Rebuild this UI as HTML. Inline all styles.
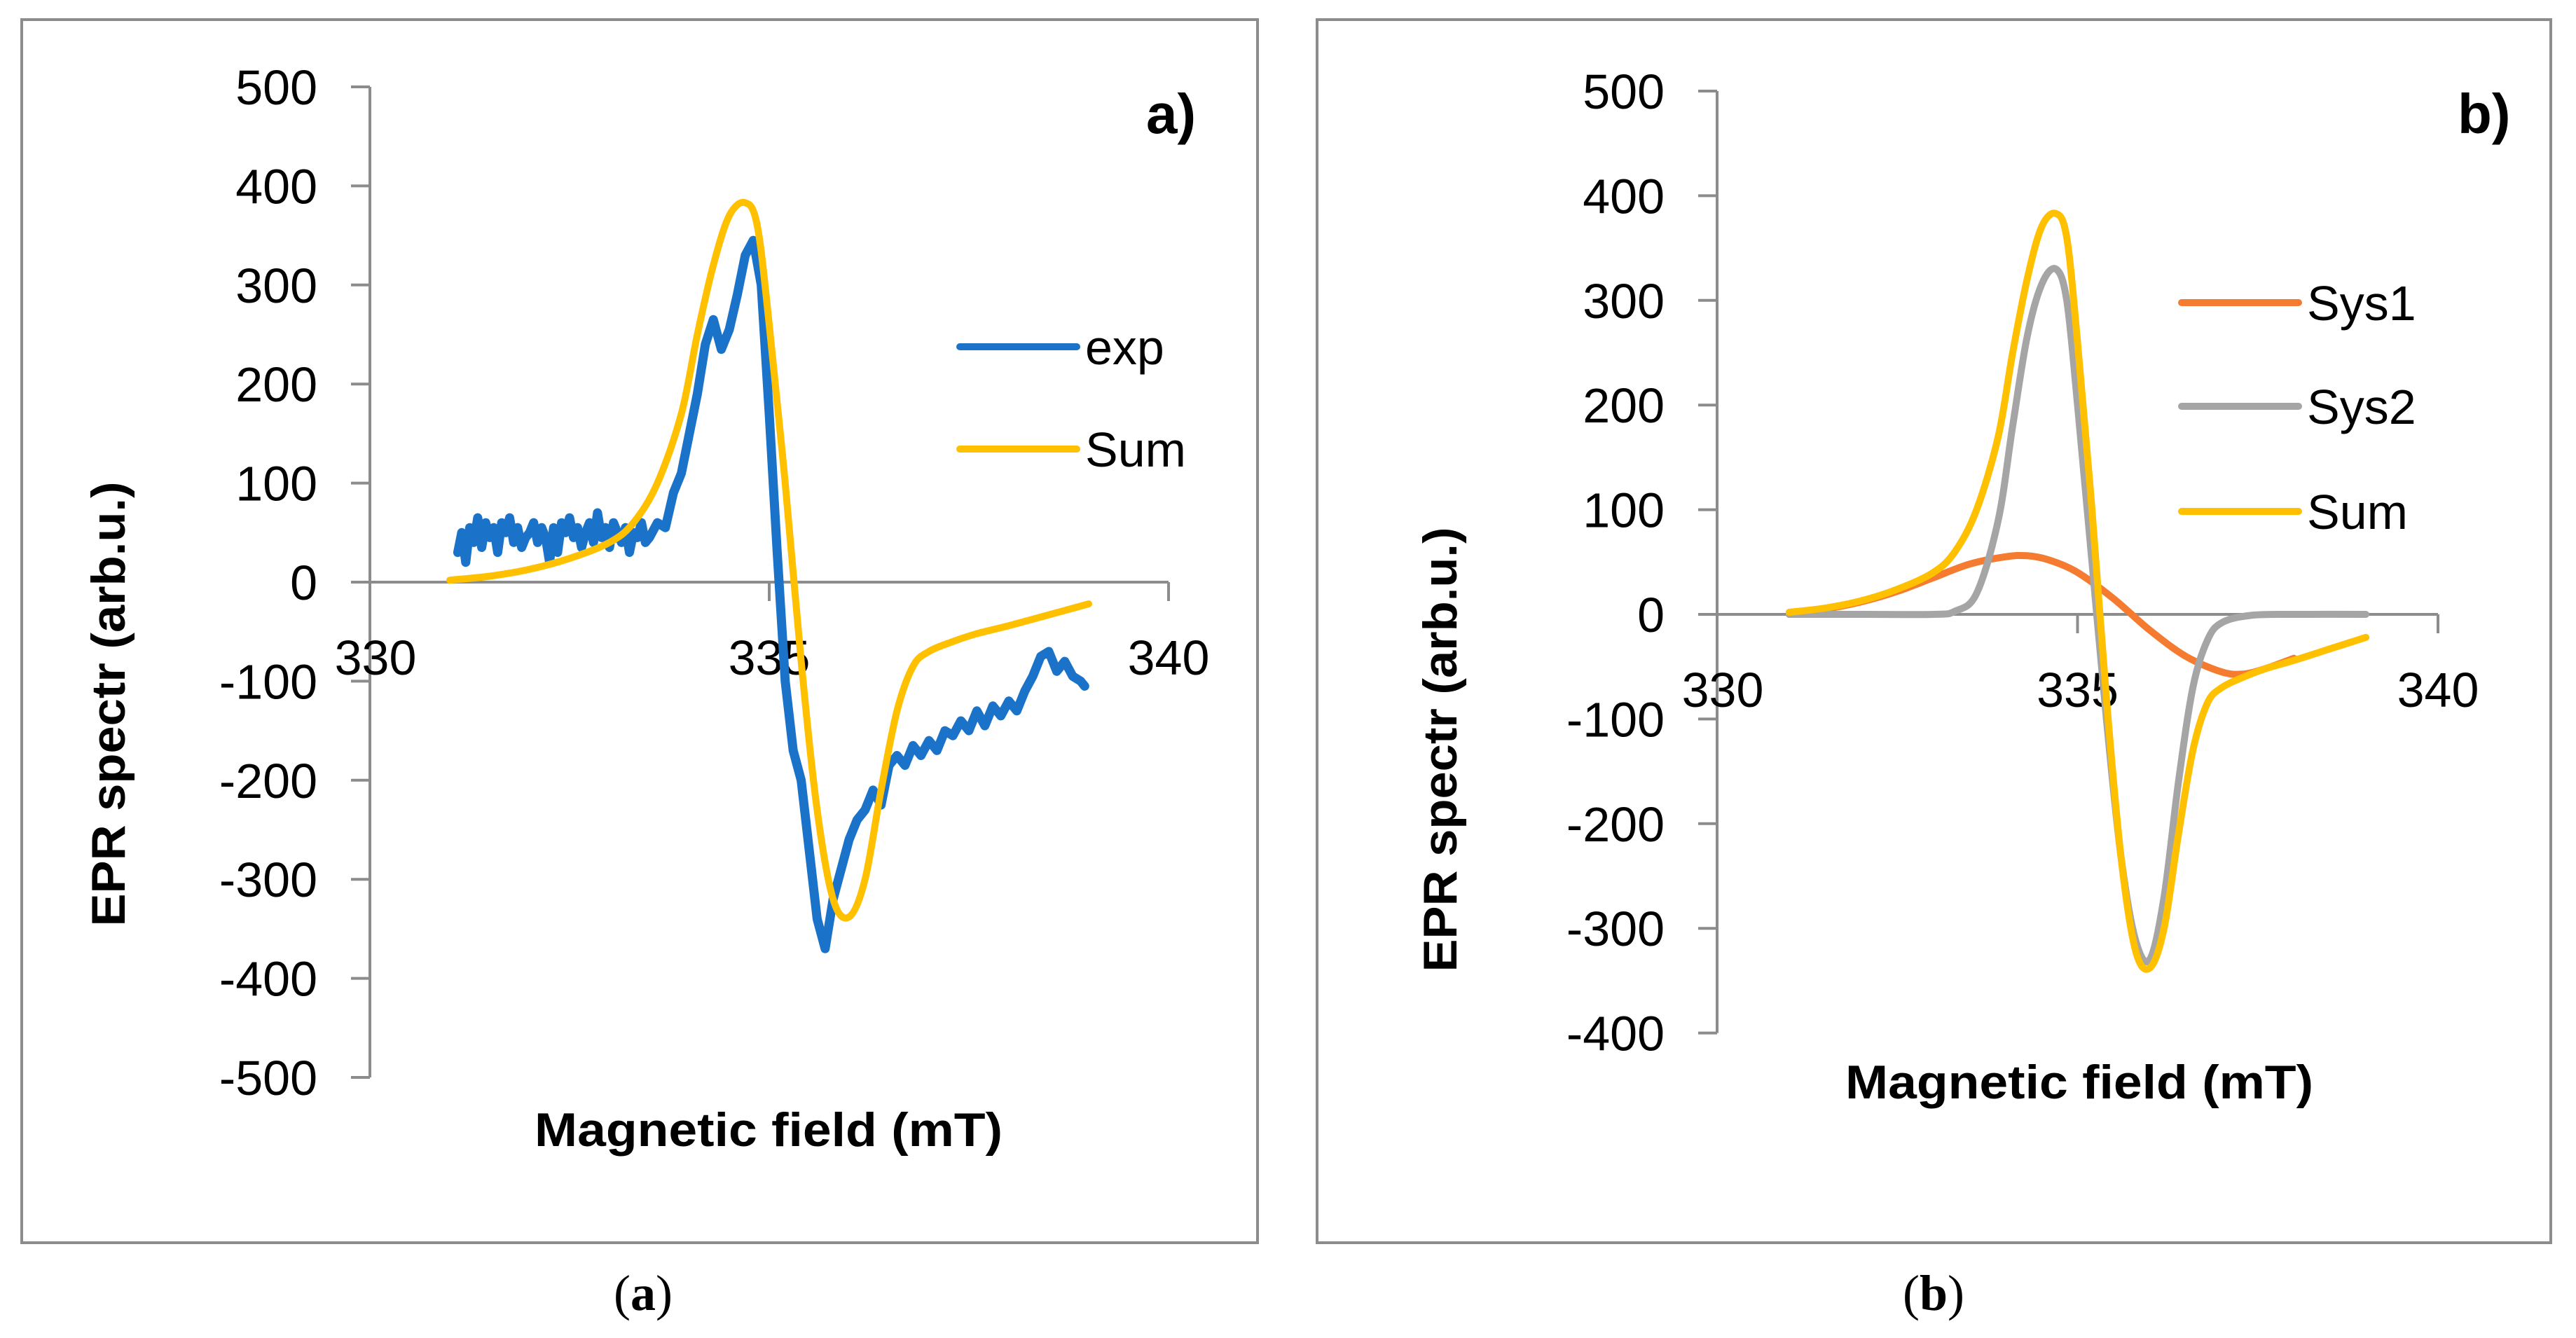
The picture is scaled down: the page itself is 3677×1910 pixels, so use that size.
<!DOCTYPE html>
<html><head><meta charset="utf-8">
<style>
html,body{margin:0;padding:0;background:#fff;}
svg{display:block;}
text{font-family:"Liberation Sans",sans-serif;fill:#000;}
</style></head>
<body>
<svg id="fig" width="3677" height="1910" viewBox="0 0 3677 1910" xmlns="http://www.w3.org/2000/svg">
<rect x="31" y="28" width="1764" height="1746" fill="none" stroke="#8c8c8c" stroke-width="4"/>
<rect x="1880" y="28" width="1761" height="1746" fill="none" stroke="#8c8c8c" stroke-width="4"/>
<g id="pa"></g>
<g id="pb"></g>
<text x="1636" y="190" font-size="80" font-weight="bold">a)</text>
<text x="3508" y="190" font-size="80" font-weight="bold">b)</text>
<text x="918" y="1870" font-size="72" text-anchor="middle" style="font-family:'Liberation Serif',serif">(<tspan font-weight="bold">a</tspan>)</text>
<text x="2760" y="1870" font-size="72" text-anchor="middle" style="font-family:'Liberation Serif',serif">(<tspan font-weight="bold">b</tspan>)</text>
</svg>
<script>
// ---- data ----
const xTicks = [330, 335, 340];
const yTicksA = [500, 400, 300, 200, 100, 0, -100, -200, -300, -400, -500];
const yTicksB = [500, 400, 300, 200, 100, 0, -100, -200, -300, -400];
const expX = [331.1,331.15,331.2,331.25,331.3,331.35,331.4,331.45,331.5,331.55,331.6,331.65,331.7,331.75,331.8,331.85,331.9,331.95,332.0,332.05,332.1,332.15,332.2,332.25,332.3,332.35,332.4,332.45,332.5,332.55,332.6,332.65,332.7,332.75,332.8,332.85,332.9,332.95,333.0,333.05,333.1,333.15,333.2,333.25,333.3,333.35,333.4,333.45,333.5,333.6,333.7,333.8,333.9,334.0,334.1,334.2,334.3,334.4,334.5,334.6,334.7,334.8,334.9,335.0,335.1,335.2,335.3,335.4,335.5,335.6,335.7,335.8,335.9,336.0,336.1,336.2,336.3,336.4,336.5,336.6,336.7,336.8,336.9,337.0,337.1,337.2,337.3,337.4,337.5,337.6,337.7,337.8,337.9,338.0,338.1,338.2,338.3,338.4,338.5,338.6,338.7,338.8,338.9,338.95];
const expY = [30,50,20,55,40,65,35,60,45,55,30,60,50,65,40,55,35,45,50,60,40,55,45,20,55,30,60,50,65,45,55,35,50,60,40,70,45,55,35,60,50,40,55,30,50,45,60,40,45,60,55,90,110,150,190,240,265,235,255,290,330,345,300,170,30,-100,-170,-200,-270,-340,-370,-320,-290,-260,-240,-230,-210,-225,-185,-175,-185,-165,-175,-160,-170,-150,-155,-140,-150,-130,-145,-125,-135,-120,-130,-110,-95,-75,-70,-90,-80,-95,-100,-105];
const sumX = [331.0,331.5,332.0,332.5,333.0,333.3,333.6,333.9,334.1,334.3,334.5,334.7,334.85,335.0,335.2,335.4,335.6,335.8,336.0,336.2,336.4,336.6,336.8,337.0,337.3,337.6,338.0,338.5,339.0];
const sumY = [2,6,13,24,40,60,100,170,250,320,370,383,360,260,100,-80,-230,-320,-338,-300,-210,-130,-85,-70,-60,-52,-44,-33,-22];
const sys1X = [331.0,331.5,332.0,332.5,333.0,333.5,334.0,334.3,334.6,335.0,335.5,336.0,336.5,337.0,337.3,337.6,338.0];
const sys1Y = [0,5,12,22,35,48,55,56,52,40,15,-15,-40,-55,-57,-52,-42];
const sys2X = [331.0,332.0,333.0,333.3,333.6,333.9,334.1,334.3,334.5,334.7,334.85,335.0,335.2,335.4,335.6,335.8,336.0,336.2,336.4,336.6,336.8,337.0,337.4,338.0,339.0];
const sys2Y = [0,0,0,3,20,90,180,265,315,330,300,200,50,-100,-230,-310,-330,-270,-160,-70,-25,-8,-1,0,0];

const NS = 'http://www.w3.org/2000/svg';
function mk(tag, attrs, parent){const e=document.createElementNS(NS,tag);for(const k in attrs)e.setAttribute(k,attrs[k]);parent.appendChild(e);return e;}

function smoothPath(pts){
  let d = 'M'+pts[0][0].toFixed(1)+','+pts[0][1].toFixed(1);
  for(let i=0;i<pts.length-1;i++){
    const p0=pts[Math.max(0,i-1)],p1=pts[i],p2=pts[i+1],p3=pts[Math.min(pts.length-1,i+2)];
    const c1x=p1[0]+(p2[0]-p0[0])/6,c1y=p1[1]+(p2[1]-p0[1])/6;
    const c2x=p2[0]-(p3[0]-p1[0])/6,c2y=p2[1]-(p3[1]-p1[1])/6;
    d+=' C'+c1x.toFixed(1)+','+c1y.toFixed(1)+' '+c2x.toFixed(1)+','+c2y.toFixed(1)+' '+p2[0].toFixed(1)+','+p2[1].toFixed(1);
  }
  return d;
}

function panel(g, cfg){
  const sx = v => cfg.x0 + (v-330)*(cfg.x1-cfg.x0)/10;
  const sy = v => cfg.zeroY - v*cfg.k;
  const top = sy(cfg.yt[0]), bot = sy(cfg.yt[cfg.yt.length-1]);
  const ax = mk('g',{},g);
  
  
  const yl = mk('line',{x1:cfg.x0,y1:top,x2:cfg.x0,y2:bot,stroke:'#8c8c8c','stroke-width':4},ax);
  
  
  const xl = mk('line',{x1:cfg.x0,y1:sy(0),x2:sx(340),y2:sy(0),stroke:'#8c8c8c','stroke-width':4},ax);
  
  
  cfg.yt.forEach(v=>{
    const t = mk('line',{x1:cfg.x0-27,y1:sy(v),x2:cfg.x0,y2:sy(v),stroke:'#8c8c8c','stroke-width':4},ax);
    
    
    const l = mk('text',{x:cfg.x0-75,y:sy(v)+25,'font-size':70,'text-anchor':'end'},ax);
    
    
    l.textContent = String(v);
  });
  xTicks.forEach(v=>{
    const t = mk('line',{x1:sx(v),y1:sy(0),x2:sx(v),y2:sy(0)+27,stroke:'#8c8c8c','stroke-width':4},ax);
    
    
    const l = mk('text',{x:sx(v)+(v===330?8:0),y:sy(0)+132,'font-size':70,'text-anchor':'middle'},ax);
    
    
    l.textContent = String(v);
  });
  const xt = mk('text',{x:cfg.xtx,y:cfg.xty,'font-size':68,'font-weight':'bold','text-anchor':'middle',textLength:668,lengthAdjust:'spacingAndGlyphs'},g);
  
  
  xt.textContent = 'Magnetic field (mT)';
  const yt = mk('text',{x:0,y:0,'font-size':68,'font-weight':'bold','text-anchor':'middle',textLength:635,lengthAdjust:'spacingAndGlyphs',transform:'translate('+cfg.ytx+','+cfg.yty+') rotate(-90)'},g);
  
  
  yt.textContent = 'EPR spectr (arb.u.)';
  cfg.series.forEach(s=>{
    const pts = s.x.map((xv,i)=>[sx(xv),sy(s.y[i])]);
    let p;
    if(s.poly){
      p = mk('polyline',{points:pts.map(q=>q[0].toFixed(1)+','+q[1].toFixed(1)).join(' '),fill:'none',stroke:s.c,'stroke-width':13,'stroke-linejoin':'round','stroke-linecap':'round'},g);
    } else {
      p = mk('path',{d:smoothPath(pts),fill:'none',stroke:s.c,'stroke-width':10,'stroke-linejoin':'round','stroke-linecap':'round'},g);
    }
    
    
  });
  cfg.legend.forEach(L=>{
    const lg = mk('g',{},g);
    
    
    mk('line',{x1:L.x,y1:L.y,x2:L.x+167,y2:L.y,stroke:L.c,'stroke-width':10,'stroke-linecap':'round'},lg);
    const t = mk('text',{x:L.x+179,y:L.y+25,'font-size':70},lg);
    t.textContent = L.t;
  });
}

panel(document.getElementById('pa'),{
  x0:528, x1:1668, zeroY:831, k:1.414, yt:yTicksA,
  xtx:1097, xty:1636, ytx:178, yty:1005,
  series:[
    {x:expX,y:expY,c:'#1b73c9',poly:true,name:'series-exp'},
    {x:sumX,y:sumY,c:'#ffc000',name:'series-sum'}
  ],
  legend:[{x:1370,y:495,c:'#1b73c9',t:'exp'},{x:1370,y:641,c:'#ffc000',t:'Sum'}]
});
panel(document.getElementById('pb'),{
  x0:2451, x1:3480, zeroY:877, k:1.494, yt:yTicksB,
  xtx:2968, xty:1568, ytx:2079, yty:1070,
  series:[
    {x:sys1X,y:sys1Y,c:'#f47b2f',name:'series-sys1'},
    {x:sys2X,y:sys2Y,c:'#a5a5a5',name:'series-sys2'},
    {x:sumX,y:sumY,c:'#ffc000',name:'series-sum'}
  ],
  legend:[{x:3114,y:432,c:'#f47b2f',t:'Sys1'},{x:3114,y:580,c:'#a5a5a5',t:'Sys2'},{x:3114,y:730,c:'#ffc000',t:'Sum'}]
});
</script>
</body></html>
